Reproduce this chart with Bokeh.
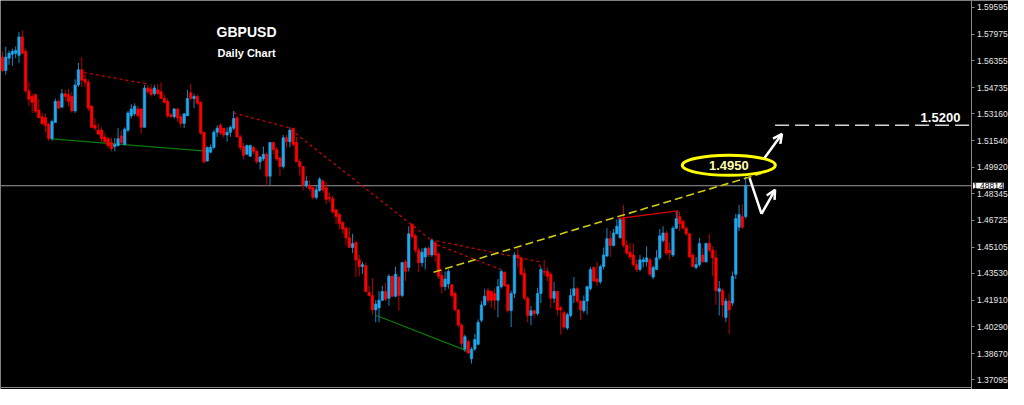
from bokeh.plotting import figure
from bokeh.models import (ColumnDataSource, Range1d, LinearAxis, FixedTicker,
                          PrintfTickFormatter, Span, Label, Arrow, OpenHead)
from bokeh.embed import file_html
from bokeh.resources import INLINE

# ---------------- data (GBPUSD daily OHLC) ----------------
opens = [
    1.5658, 1.5577, 1.5652, 1.5675, 1.5681, 1.5669, 1.5780, 1.5693, 1.5455, 1.5420,
    1.5432, 1.5339, 1.5298, 1.5292, 1.5252, 1.5165, 1.5263, 1.5391, 1.5356, 1.5437,
    1.5432, 1.5420, 1.5333, 1.5490, 1.5582, 1.5524, 1.5507, 1.5362, 1.5246, 1.5217,
    1.5217, 1.5176, 1.5165, 1.5142, 1.5118, 1.5124, 1.5182, 1.5130, 1.5217, 1.5304,
    1.5316, 1.5345, 1.5345, 1.5234, 1.5472, 1.5466, 1.5437, 1.5461, 1.5449, 1.5408,
    1.5391, 1.5310, 1.5298, 1.5345, 1.5298, 1.5258, 1.5304, 1.5443, 1.5408, 1.5420,
    1.5385, 1.5205, 1.5031, 1.5084, 1.5113, 1.5205, 1.5246, 1.5229, 1.5188, 1.5205,
    1.5229, 1.5292, 1.5176, 1.5118, 1.5072, 1.5060, 1.5113, 1.5089, 1.5026, 1.5043,
    1.5072, 1.4939, 1.5142, 1.5101, 1.5049, 1.4997, 1.5171, 1.5147, 1.5229, 1.5142,
    1.5026, 1.4997, 1.4881, 1.4886, 1.4869, 1.4811, 1.4852, 1.4910, 1.4869, 1.4811,
    1.4805, 1.4736, 1.4707, 1.4660, 1.4625, 1.4567, 1.4509, 1.4538, 1.4434, 1.4393,
    1.4399, 1.4237, 1.4219, 1.4132, 1.4144, 1.4190, 1.4243, 1.4202, 1.4335, 1.4214,
    1.4330, 1.4219, 1.4422, 1.4388, 1.4649, 1.4579, 1.4492, 1.4417, 1.4451, 1.4504,
    1.4463, 1.4538, 1.4469, 1.4341, 1.4272, 1.4289, 1.4283, 1.4231, 1.4132, 1.4040,
    1.3895, 1.3941, 1.3837, 1.3895, 1.3924, 1.4069, 1.4161, 1.4248, 1.4243, 1.4231,
    1.4190, 1.4272, 1.4359, 1.4283, 1.4127, 1.4231, 1.4463, 1.4446, 1.4353, 1.4202,
    1.4098, 1.4127, 1.4109, 1.4231, 1.4364, 1.4364, 1.4347, 1.4202, 1.4243, 1.4144,
    1.4115, 1.4022, 1.4098, 1.4219, 1.4260, 1.4185, 1.4127, 1.4185, 1.4260, 1.4388,
    1.4318, 1.4301, 1.4393, 1.4457, 1.4562, 1.4521, 1.4591, 1.4567, 1.4683, 1.4521,
    1.4480, 1.4463, 1.4405, 1.4376, 1.4422, 1.4422, 1.4434, 1.4330, 1.4376, 1.4446,
    1.4550, 1.4596, 1.4492, 1.4463, 1.4625, 1.4695, 1.4666, 1.4625, 1.4591, 1.4463,
    1.4388, 1.4405, 1.4463, 1.4422, 1.4533, 1.4492, 1.4446, 1.4243, 1.4248, 1.4086,
    1.4185, 1.4173, 1.4347, 1.4631, 1.4695, 1.4695,
]
highs = [
    1.5693, 1.5722, 1.5698, 1.5710, 1.5722, 1.5809, 1.5820, 1.5710, 1.5507, 1.5437,
    1.5437, 1.5403, 1.5321, 1.5316, 1.5263, 1.5281, 1.5408, 1.5403, 1.5466, 1.5461,
    1.5466, 1.5449, 1.5524, 1.5623, 1.5658, 1.5553, 1.5524, 1.5368, 1.5287, 1.5258,
    1.5234, 1.5200, 1.5176, 1.5171, 1.5171, 1.5229, 1.5217, 1.5234, 1.5333, 1.5374,
    1.5379, 1.5362, 1.5350, 1.5490, 1.5490, 1.5495, 1.5490, 1.5495, 1.5507, 1.5432,
    1.5408, 1.5321, 1.5350, 1.5350, 1.5316, 1.5321, 1.5461, 1.5495, 1.5437, 1.5432,
    1.5391, 1.5205, 1.5118, 1.5130, 1.5217, 1.5246, 1.5258, 1.5229, 1.5234, 1.5246,
    1.5333, 1.5304, 1.5188, 1.5142, 1.5130, 1.5130, 1.5124, 1.5101, 1.5060, 1.5118,
    1.5084, 1.5147, 1.5147, 1.5113, 1.5060, 1.5188, 1.5188, 1.5234, 1.5229, 1.5176,
    1.5043, 1.5002, 1.4939, 1.4915, 1.4881, 1.4886, 1.4933, 1.4921, 1.4904, 1.4840,
    1.4823, 1.4741, 1.4718, 1.4666, 1.4637, 1.4631, 1.4591, 1.4550, 1.4463, 1.4422,
    1.4417, 1.4277, 1.4324, 1.4190, 1.4243, 1.4277, 1.4295, 1.4347, 1.4341, 1.4393,
    1.4341, 1.4422, 1.4434, 1.4637, 1.4654, 1.4591, 1.4509, 1.4504, 1.4509, 1.4515,
    1.4562, 1.4550, 1.4480, 1.4376, 1.4364, 1.4376, 1.4289, 1.4243, 1.4132, 1.4051,
    1.3982, 1.3953, 1.3906, 1.3987, 1.4074, 1.4185, 1.4260, 1.4266, 1.4248, 1.4260,
    1.4318, 1.4376, 1.4364, 1.4289, 1.4248, 1.4480, 1.4504, 1.4451, 1.4382, 1.4214,
    1.4156, 1.4132, 1.4266, 1.4393, 1.4434, 1.4388, 1.4359, 1.4301, 1.4248, 1.4156,
    1.4127, 1.4115, 1.4260, 1.4330, 1.4272, 1.4190, 1.4219, 1.4277, 1.4393, 1.4393,
    1.4422, 1.4405, 1.4509, 1.4625, 1.4608, 1.4620, 1.4678, 1.4683, 1.4765, 1.4550,
    1.4533, 1.4533, 1.4434, 1.4463, 1.4451, 1.4515, 1.4446, 1.4399, 1.4492, 1.4620,
    1.4637, 1.4608, 1.4538, 1.4637, 1.4724, 1.4724, 1.4678, 1.4637, 1.4596, 1.4475,
    1.4451, 1.4567, 1.4504, 1.4538, 1.4591, 1.4515, 1.4492, 1.4306, 1.4260, 1.4202,
    1.4231, 1.4364, 1.4712, 1.4765, 1.4770, 1.4939,
]
lows = [
    1.5571, 1.5553, 1.5611, 1.5606, 1.5652, 1.5623, 1.5675, 1.5443, 1.5362, 1.5321,
    1.5321, 1.5292, 1.5246, 1.5205, 1.5153, 1.5153, 1.5263, 1.5345, 1.5350, 1.5391,
    1.5362, 1.5321, 1.5321, 1.5478, 1.5478, 1.5478, 1.5333, 1.5229, 1.5217, 1.5188,
    1.5147, 1.5142, 1.5107, 1.5089, 1.5089, 1.5118, 1.5130, 1.5124, 1.5205, 1.5287,
    1.5304, 1.5292, 1.5194, 1.5234, 1.5437, 1.5420, 1.5426, 1.5432, 1.5408, 1.5379,
    1.5292, 1.5292, 1.5287, 1.5269, 1.5234, 1.5229, 1.5304, 1.5397, 1.5350, 1.5368,
    1.5188, 1.5014, 1.5026, 1.5078, 1.5101, 1.5176, 1.5188, 1.5171, 1.5147, 1.5176,
    1.5217, 1.5176, 1.5095, 1.5043, 1.5066, 1.5055, 1.5072, 1.5014, 1.4979, 1.5031,
    1.4881, 1.4886, 1.5072, 1.5031, 1.4939, 1.4985, 1.5113, 1.5113, 1.5118, 1.5026,
    1.4944, 1.4852, 1.4869, 1.4852, 1.4799, 1.4799, 1.4846, 1.4840, 1.4770, 1.4782,
    1.4712, 1.4649, 1.4620, 1.4591, 1.4521, 1.4509, 1.4475, 1.4330, 1.4335, 1.4347,
    1.4237, 1.4214, 1.4103, 1.4057, 1.4057, 1.4185, 1.4185, 1.4156, 1.4208, 1.4208,
    1.4127, 1.4208, 1.4306, 1.4364, 1.4562, 1.4475, 1.4359, 1.4393, 1.4376, 1.4451,
    1.4451, 1.4422, 1.4318, 1.4231, 1.4248, 1.4260, 1.4208, 1.4127, 1.4028, 1.3900,
    1.3877, 1.3866, 1.3808, 1.3883, 1.3918, 1.4057, 1.4156, 1.4173, 1.4144, 1.4132,
    1.4086, 1.4260, 1.4272, 1.4115, 1.4028, 1.4202, 1.4388, 1.4341, 1.4190, 1.4057,
    1.4040, 1.4086, 1.4098, 1.4173, 1.4335, 1.4306, 1.4144, 1.4173, 1.4098, 1.3982,
    1.4016, 1.4011, 1.4086, 1.4173, 1.4173, 1.4069, 1.4115, 1.4103, 1.4248, 1.4301,
    1.4277, 1.4289, 1.4376, 1.4451, 1.4451, 1.4515, 1.4591, 1.4562, 1.4509, 1.4463,
    1.4434, 1.4393, 1.4359, 1.4364, 1.4388, 1.4393, 1.4335, 1.4318, 1.4376, 1.4434,
    1.4538, 1.4463, 1.4434, 1.4451, 1.4620, 1.4608, 1.4620, 1.4579, 1.4446, 1.4388,
    1.4376, 1.4393, 1.4417, 1.4417, 1.4480, 1.4335, 1.4161, 1.4098, 1.4086, 1.4057,
    1.3987, 1.4156, 1.4318, 1.4608, 1.4620, 1.4683,
]
closes = [
    1.5577, 1.5658, 1.5681, 1.5693, 1.5698, 1.5780, 1.5681, 1.5455, 1.5403, 1.5385,
    1.5333, 1.5292, 1.5258, 1.5246, 1.5165, 1.5269, 1.5391, 1.5350, 1.5437, 1.5420,
    1.5391, 1.5333, 1.5490, 1.5582, 1.5519, 1.5507, 1.5350, 1.5234, 1.5229, 1.5194,
    1.5165, 1.5147, 1.5124, 1.5107, 1.5130, 1.5165, 1.5142, 1.5223, 1.5321, 1.5345,
    1.5362, 1.5304, 1.5234, 1.5472, 1.5449, 1.5432, 1.5472, 1.5437, 1.5408, 1.5385,
    1.5304, 1.5298, 1.5345, 1.5292, 1.5258, 1.5316, 1.5408, 1.5408, 1.5420, 1.5379,
    1.5200, 1.5026, 1.5113, 1.5113, 1.5205, 1.5229, 1.5200, 1.5188, 1.5205, 1.5234,
    1.5287, 1.5176, 1.5113, 1.5066, 1.5124, 1.5124, 1.5089, 1.5026, 1.5055, 1.5072,
    1.4939, 1.5142, 1.5101, 1.5043, 1.4997, 1.5171, 1.5147, 1.5217, 1.5130, 1.5026,
    1.4997, 1.4886, 1.4910, 1.4863, 1.4811, 1.4857, 1.4921, 1.4857, 1.4799, 1.4805,
    1.4724, 1.4695, 1.4654, 1.4620, 1.4567, 1.4509, 1.4533, 1.4434, 1.4393, 1.4405,
    1.4243, 1.4219, 1.4132, 1.4167, 1.4190, 1.4243, 1.4196, 1.4335, 1.4214, 1.4347,
    1.4219, 1.4417, 1.4364, 1.4591, 1.4573, 1.4492, 1.4417, 1.4480, 1.4504, 1.4463,
    1.4550, 1.4463, 1.4335, 1.4272, 1.4318, 1.4364, 1.4219, 1.4132, 1.4040, 1.3929,
    1.3970, 1.3871, 1.3895, 1.3953, 1.4057, 1.4161, 1.4214, 1.4190, 1.4190, 1.4190,
    1.4272, 1.4364, 1.4277, 1.4127, 1.4231, 1.4463, 1.4446, 1.4347, 1.4202, 1.4098,
    1.4127, 1.4109, 1.4231, 1.4376, 1.4359, 1.4335, 1.4202, 1.4243, 1.4132, 1.4132,
    1.4028, 1.4103, 1.4219, 1.4260, 1.4185, 1.4132, 1.4185, 1.4272, 1.4376, 1.4306,
    1.4301, 1.4393, 1.4463, 1.4562, 1.4521, 1.4596, 1.4637, 1.4678, 1.4521, 1.4475,
    1.4451, 1.4405, 1.4376, 1.4434, 1.4434, 1.4446, 1.4347, 1.4388, 1.4446, 1.4579,
    1.4596, 1.4475, 1.4475, 1.4625, 1.4683, 1.4654, 1.4625, 1.4591, 1.4451, 1.4393,
    1.4405, 1.4533, 1.4422, 1.4533, 1.4492, 1.4446, 1.4248, 1.4260, 1.4161, 1.4185,
    1.4132, 1.4335, 1.4683, 1.4707, 1.4631, 1.4881,
]

price_ticks = [1.59595, 1.57975, 1.56355, 1.54735, 1.53160, 1.51540, 1.49920,
               1.48345, 1.46725, 1.45105, 1.43530, 1.41910, 1.40290, 1.38670, 1.37095]
last_price = 1.48814

# drawn analysis lines: (bar index, price) anchor values
red_dotted_1_x = [24.7, 44.1]
red_dotted_1_y = [1.5565, 1.5495]
red_dotted_2_x = [70.0, 86.4, 129.6]
red_dotted_2_y = [1.5321, 1.5234, 1.4556]
red_dotted_3_x = [129.6, 162.7, 162.7]
red_dotted_3_y = [1.4556, 1.4422, 1.4382]
red_dotted_4_x = [129.9, 150.8]
red_dotted_4_y = [1.4538, 1.4376]
red_solid_x = [186.3, 204.4, 204.4]
red_solid_y = [1.4683, 1.4730, 1.4689]
green_1_x = [14.9, 62.6]
green_1_y = [1.5165, 1.5089]
green_2_x = [113.2, 141.6]
green_2_y = [1.4098, 1.3877]
yellow_trend_x = [130.5, 229.8]
yellow_trend_y = [1.4359, 1.4956]
breakout_x, breakout_y = 219.9, 1.5005
breakout_text = "1.4950"
target_x0 = 233.9
target_level = 1.5246
target_text = "1.5200"
arrow_up = (230.7, 1.5049, 236.0, 1.5194)
pullback_x = [226.2, 229.8, 233.9]
pullback_y = [1.4927, 1.4712, 1.4857]

# ---------------- figure ----------------
X0, X1 = -0.596, 304.57      # whole canvas width (bar units)
Y0, Y1 = 1.3651, 1.6000      # whole canvas height (price)
AXIS_X = 293.5               # price axis position (bar units)
AXIS_Y = 1.3664              # bottom frame line (price)

BULL, BEAR = "#1ea8ee", "#ff0000"
BULL_W, BEAR_W = "#1a86c0", "#c00000"

n = len(closes)
up = [c >= o for o, c in zip(opens, closes)]
src = ColumnDataSource(dict(
    x=list(range(n)), h=highs, l=lows,
    top=[max(o, c) for o, c in zip(opens, closes)],
    bottom=[min(o, c) for o, c in zip(opens, closes)],
    body=[BULL if u else BEAR for u in up],
    wick=[BULL_W if u else BEAR_W for u in up],
))

p = figure(width=1008, height=389, output_backend="svg", toolbar_location=None,
           x_range=Range1d(X0, X1), y_range=Range1d(Y0, Y1),
           x_axis_location=None, y_axis_location=None,
           background_fill_color="black", border_fill_color="black",
           outline_line_color=None,
           min_border_left=0, min_border_top=0, min_border_right=0, min_border_bottom=0)
p.xgrid.visible = False
p.ygrid.visible = False

yax = LinearAxis(ticker=FixedTicker(ticks=price_ticks),
                 formatter=PrintfTickFormatter(format="%.5f"),
                 fixed_location=AXIS_X,
                 axis_line_color="#8a8a8a", major_tick_line_color="#8a8a8a",
                 major_tick_out=3, major_tick_in=0, minor_tick_line_color=None,
                 major_label_text_color="#e6e6e6", major_label_text_font_size="8.5px",
                 major_label_text_font="Liberation Sans", major_label_standoff=2)
p.add_layout(yax, "right")
xax = LinearAxis(ticker=FixedTicker(ticks=[]), fixed_location=AXIS_Y, bounds=(X0, AXIS_X),
                 axis_line_color="#8a8a8a",
                 major_tick_line_color=None, minor_tick_line_color=None,
                 major_tick_out=0, minor_tick_out=0,
                 major_label_text_font_size="0px", major_label_standoff=0)
p.add_layout(xax, "below")

p.line([X0, AXIS_X], [last_price, last_price], line_color="#9a9a9a", line_width=1)

# analysis lines (behind candles)
p.line(green_1_x, green_1_y, line_color="#0a7a0a", line_width=1.2)
p.line(green_2_x, green_2_y, line_color="#0a7a0a", line_width=1.2)
for xs, ys in [(red_dotted_1_x, red_dotted_1_y), (red_dotted_2_x, red_dotted_2_y),
               (red_dotted_3_x, red_dotted_3_y), (red_dotted_4_x, red_dotted_4_y)]:
    p.line(xs, ys, line_color="#c80000", line_width=1.3, line_dash="3 3")
p.line(red_solid_x, red_solid_y, line_color="#e00000", line_width=1.3)

# candles
p.segment(x0="x", y0="h", x1="x", y1="l", line_color="wick", line_width=1, source=src)
p.vbar(x="x", width=0.75, top="top", bottom="bottom", fill_color="body",
       line_color="body", line_width=0.6, source=src)

p.line(yellow_trend_x, yellow_trend_y, line_color="#cfcc10", line_width=1.6, line_dash="8 4")

# target line and texts
p.line([target_x0, AXIS_X], [target_level, target_level], line_color="#d4d4d4",
       line_width=1.5, line_dash="14 6")
p.add_layout(Label(x=290.0, y=target_level, y_offset=3, text=target_text,
                   text_align="right", text_baseline="bottom", text_color="white",
                   text_font="Liberation Sans", text_font_style="bold", text_font_size="13px"))

p.ellipse(x=[breakout_x], y=[breakout_y], width=93, height=20,
          width_units="screen", height_units="screen",
          fill_color=None, line_color="#ffff00", line_width=3)
p.add_layout(Label(x=breakout_x, y=breakout_y, text=breakout_text, text_align="center",
                   text_baseline="middle", text_color="#ffffb0", text_font="Liberation Sans",
                   text_font_style="bold", text_font_size="13px"))

# arrows
p.add_layout(Arrow(end=OpenHead(size=9, line_color="white", line_width=2.5),
                   x_start=arrow_up[0], y_start=arrow_up[1], x_end=arrow_up[2], y_end=arrow_up[3],
                   line_color="white", line_width=2.5))
p.line(pullback_x[:2], pullback_y[:2], line_color="white", line_width=2.5)
p.add_layout(Arrow(end=OpenHead(size=9, line_color="white", line_width=2.5),
                   x_start=pullback_x[1], y_start=pullback_y[1], x_end=pullback_x[2], y_end=pullback_y[2],
                   line_color="white", line_width=2.5))

# titles
p.add_layout(Label(x=73.9, y=1.5809, text="GBPUSD", text_align="center", text_baseline="middle",
                   text_color="white", text_font="Liberation Sans", text_font_style="bold",
                   text_font_size="14px"))
p.add_layout(Label(x=73.9, y=1.5681, text="Daily Chart", text_align="center", text_baseline="middle",
                   text_color="white", text_font="Liberation Sans", text_font_style="bold",
                   text_font_size="11px"))

# current price tag on the axis
p.add_layout(Label(x=AXIS_X, y=last_price, x_offset=1, text=f"{last_price:.5f}", text_align="left",
                   text_baseline="middle", text_color="black", background_fill_color="white",
                   text_font="Liberation Sans", text_font_size="8.5px"))

open("out.html", "w").write(file_html(p, INLINE))
